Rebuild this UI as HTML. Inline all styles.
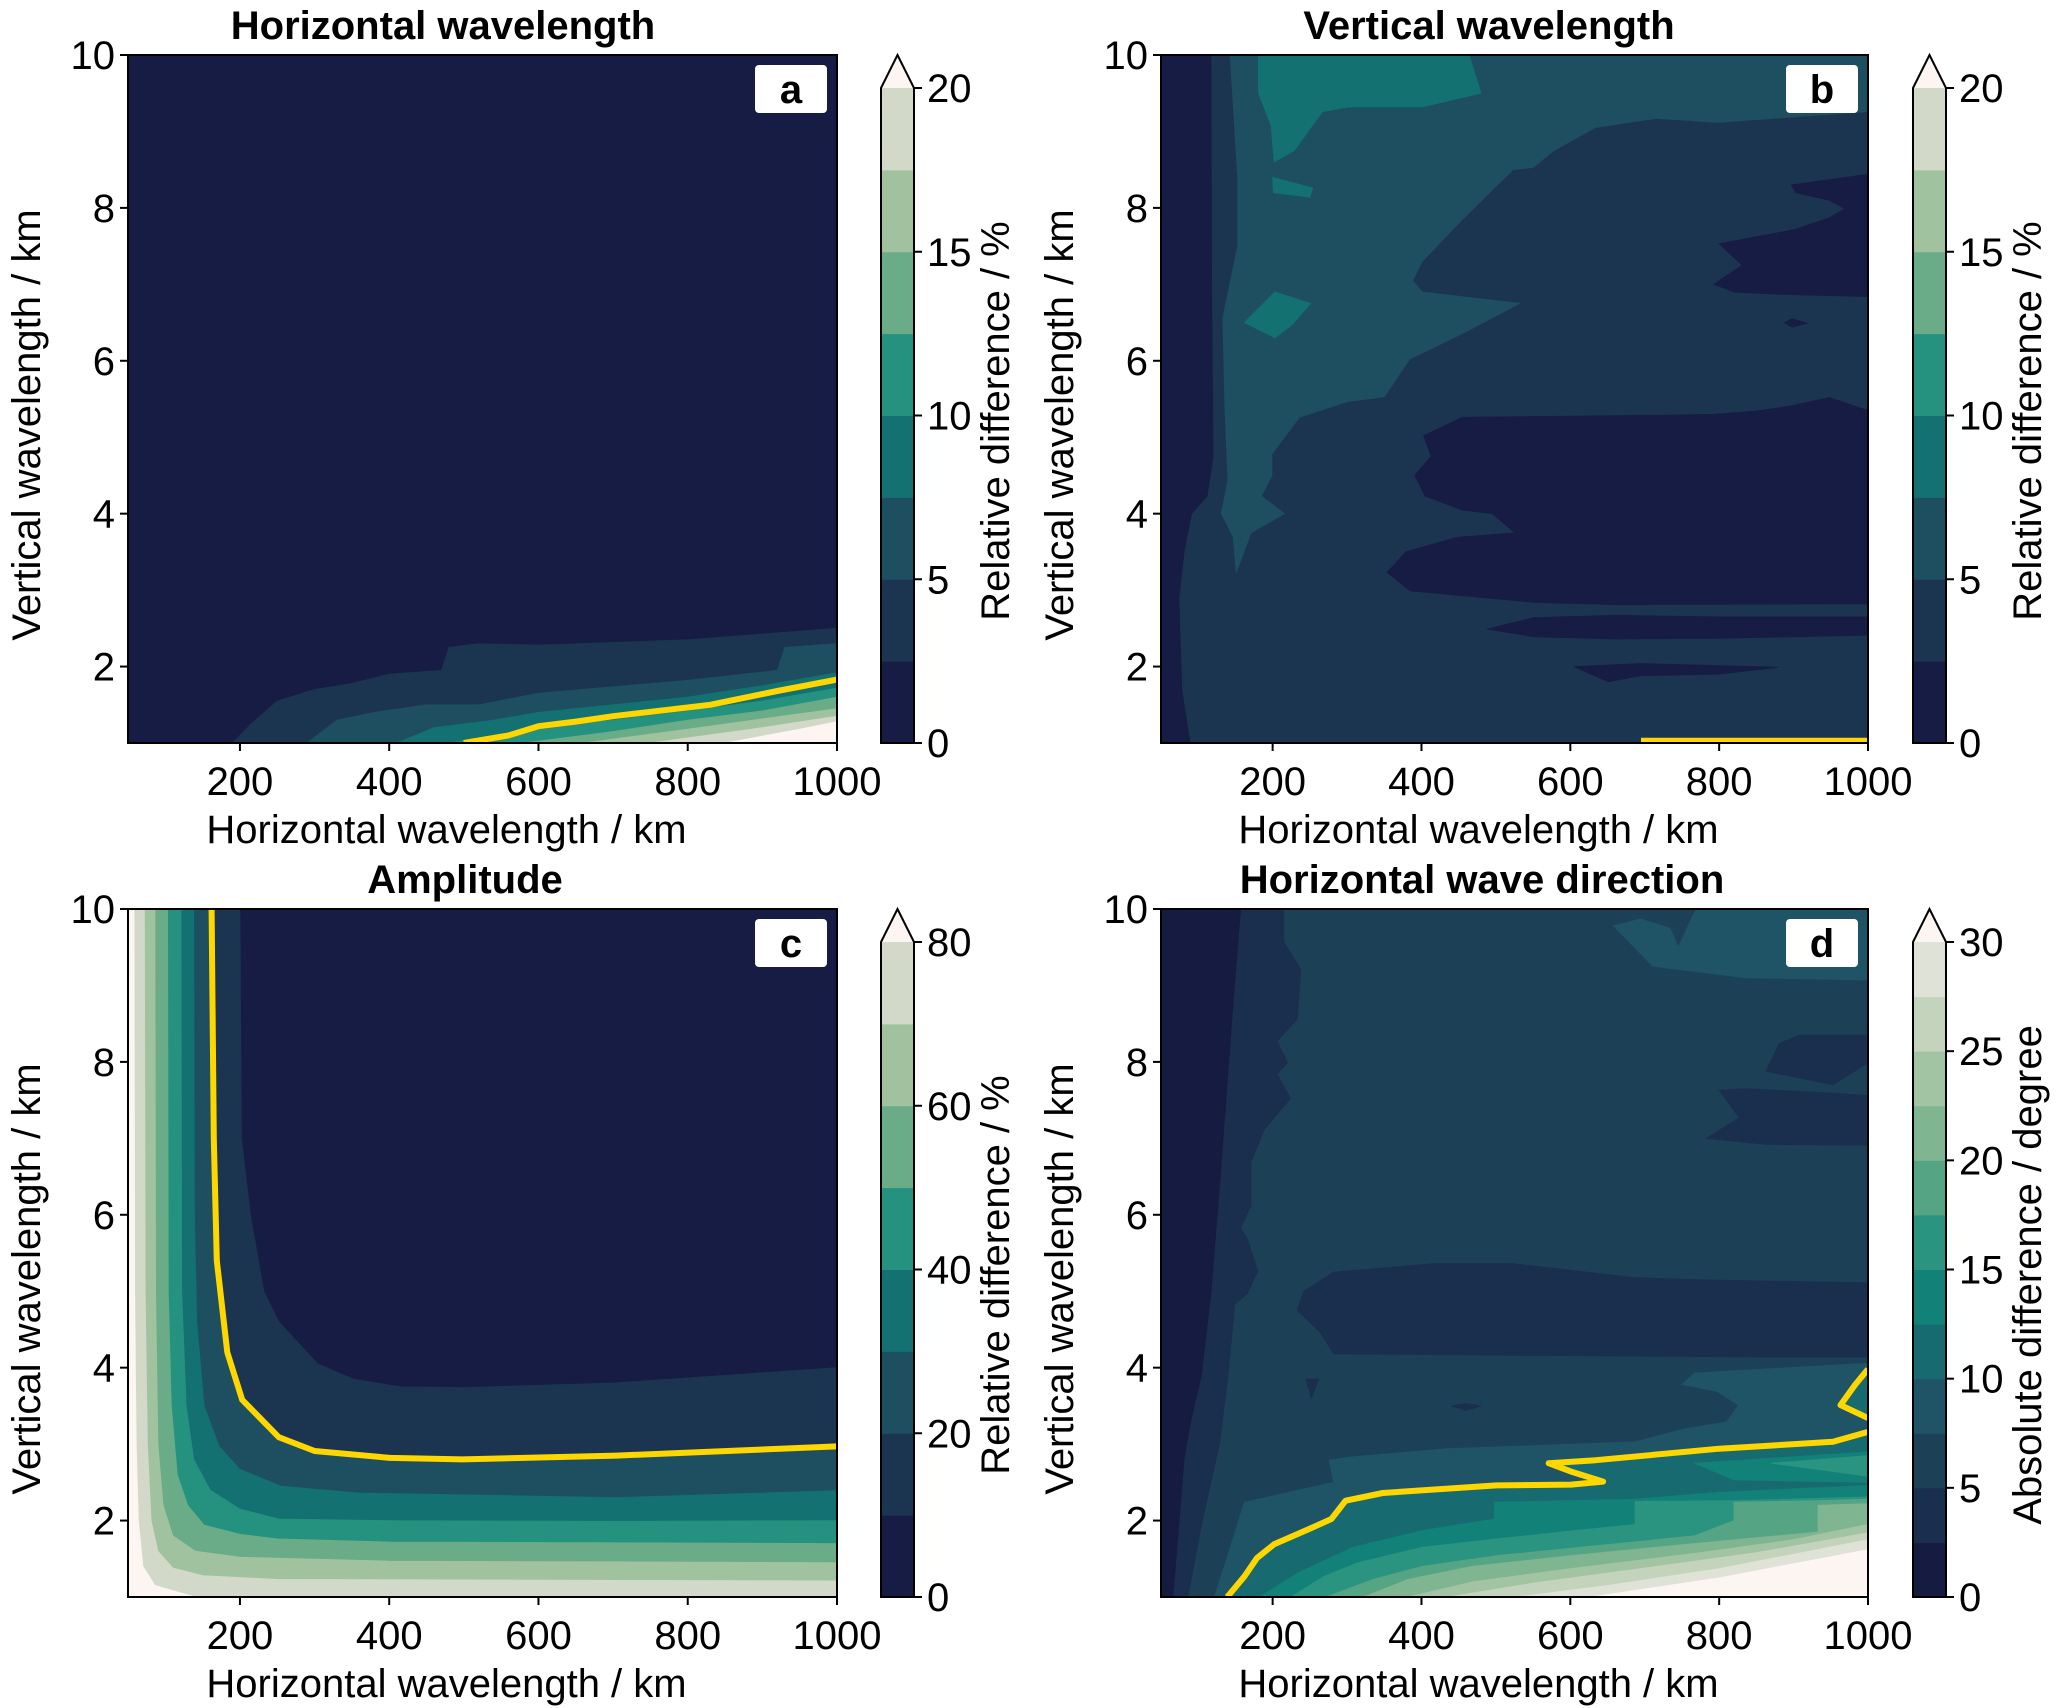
<!DOCTYPE html>
<html><head><meta charset="utf-8"><style>
html,body{margin:0;padding:0;background:#fff;}
svg{display:block;font-family:"Liberation Sans",Arial,sans-serif;}
</style></head><body>
<svg id="fig" width="2067" height="1708" viewBox="0 0 2067 1708" xmlns="http://www.w3.org/2000/svg"></svg>
<script>
// ---- data ----
const xTicks = [200, 400, 600, 800, 1000];
const yTicks = [2, 4, 6, 8, 10];
const cmap8 = ['#161c43','#1b3550','#1e4f60','#137171','#25917f','#6aab88','#a0c29e','#d2d9c8'];
const cmap12 = ['#161b42','#1a2e4e','#1c4056','#1e5466','#176a70','#128177','#2a9480','#55a585','#80b592','#a3c4a2','#c4d3bc','#dfe2d6'];
const overColor = '#fdf5f2';
const cbTicksA = [0, 5, 10, 15, 20];
const cbTicksC = [0, 20, 40, 60, 80];
const cbTicksD = [0, 5, 10, 15, 20, 25, 30];

// Panel a
const aBoundaryLevels = [1, 2, 3, 4, 5, 6, 7, 8];
const aBoundaries = [
 [[190,1],[215,1.25],[250,1.55],[300,1.7],[350,1.78],[400,1.9],[470,1.95],[480,2.25],[520,2.3],[600,2.28],[800,2.35],[1000,2.5]],
 [[290,1],[330,1.3],[380,1.4],[450,1.5],[520,1.5],[600,1.65],[800,1.82],[920,1.95],[930,2.25],[1000,2.3]],
 [[410,1],[460,1.2],[540,1.3],[600,1.4],[700,1.5],[800,1.6],[900,1.75],[1000,1.92]],
 [[480,1],[560,1.12],[600,1.2],[700,1.3],[800,1.42],[900,1.55],[1000,1.72]],
 [[580,1],[700,1.15],[800,1.3],[900,1.42],[1000,1.6]],
 [[660,1],[800,1.18],[1000,1.45]],
 [[750,1],[900,1.2],[1000,1.35]],
 [[850,1],[950,1.18],[1000,1.28]]
];
const aYellow = [[500,1],[560,1.1],[600,1.22],[650,1.28],[700,1.35],[830,1.5],[920,1.68],[1000,1.83]];

// Panel b
const bPatchLevels = [2, 3, 3, 3, 0, 0, 0, 0, 0, 0];
const bPatches = [
 [[143,10],[153,8.38],[153,7.5],[133,6.56],[136,5.35],[140,4.44],[131,4.0],[147,3.7],[151,3.23],[171,3.75],[216,4.0],[185,4.23],[199,4.5],[199,4.78],[236,5.26],[302,5.47],[350,5.53],[384,6.02],[401,6.1],[460,6.38],[532,6.75],[401,6.9],[388,7.05],[401,7.3],[454,7.84],[523,8.5],[550,8.53],[578,8.75],[633,9.05],[715,9.17],[798,9.12],[1000,9.26],[1000,10]],
 [[181,10],[181,9.5],[198,9.08],[202,8.6],[229,8.75],[267,9.26],[302,9.32],[401,9.32],[480,9.5],[464,10]],
 [[200,8.4],[254,8.26],[250,8.14],[201,8.2]],
 [[162,6.5],[203,6.9],[251,6.75],[226,6.47],[203,6.3]],
 [[1000,8.44],[897,8.3],[903,8.2],[948,8.1],[969,7.99],[948,7.87],[903,7.72],[800,7.53],[831,7.25],[793,7.0],[820,6.9],[882,6.87],[1000,6.84]],
 [[1000,5.35],[948,5.52],[897,5.41],[849,5.34],[793,5.3],[731,5.29],[455,5.26],[403,5.02],[413,4.75],[391,4.5],[405,4.23],[454,4.05],[495,4.0],[526,3.75],[447,3.69],[379,3.5],[354,3.23],[385,2.99],[551,2.84],[661,2.81],[1000,2.82]],
 [[488,2.49],[551,2.64],[661,2.67],[798,2.65],[1000,2.65],[1000,2.41],[798,2.37],[661,2.36],[551,2.39]],
 [[605,2.0],[694,2.04],[879,1.99],[798,1.9],[694,1.88],[651,1.8]],
 [[888,6.5],[898,6.55],[919,6.49],[898,6.44]],
 [[50,10],[117,10],[118,7],[120,4.75],[112,4.23],[91,4.0],[81,3.5],[74,2.9],[78,1.7],[89,1],[50,1]]
];
const bYellow = [[695,1.03],[1000,1.03]];

// Panel c
const cBoundaryLevels = [1, 2, 3, 4, 5, 6, 7];
const cBoundaries = [
 [[200,10],[202,7],[214,6],[232,5],[252,4.6],[304,4.05],[352,3.85],[415,3.75],[500,3.74],[700,3.8],[1000,4.0]],
 [[162,10],[165,7],[169,5.4],[183,4.2],[203,3.58],[252,3.09],[300,2.91],[401,2.82],[498,2.8],[705,2.85],[1000,2.97]],
 [[138,10],[139,6],[142,4.6],[152,3.5],[172,2.97],[200,2.67],[255,2.45],[359,2.36],[705,2.3],[1000,2.39]],
 [[121,10],[122,5],[128,3.5],[138,2.8],[160,2.4],[200,2.15],[252,2.02],[400,2.0],[700,1.99],[1000,2.0]],
 [[103,10],[104,5],[108,3.5],[116,2.6],[130,2.2],[152,1.94],[200,1.82],[250,1.76],[400,1.72],[1000,1.70]],
 [[86,10],[87,5],[90,3],[97,2.2],[110,1.8],[140,1.6],[200,1.52],[400,1.47],[1000,1.45]],
 [[72,10],[73,5],[76,3],[81,2],[90,1.6],[110,1.38],[150,1.28],[250,1.23],[1000,1.21]]
];
const cOver = [[58,10],[59,5],[61,3],[64,2],[70,1.4],[86,1.15],[140,1.0]];
const cYellow = [[162,10],[165,7],[169,5.4],[183,4.2],[203,3.58],[252,3.09],[300,2.91],[401,2.82],[498,2.8],[705,2.85],[1000,2.97]];

// Panel d
const dStripLevels = [1, 0];
const dStrips = [
 [[215,10],[215,9.57],[238,9.21],[233,8.56],[206,8.27],[220,7.99],[206,7.84],[224,7.52],[189,7.12],[171,6.69],[171,6.12],[157,5.83],[166,5.69],[180,5.26],[166,4.97],[149,4.83],[140,3.9],[129,3.03],[106,2.02],[86,1]],
 [[157,10],[148,8.92],[130,6.55],[117,4.97],[104,3.89],[90,3.31],[81,2.81],[66,1]]
];
const dIslandLevels = [1, 1, 1, 3, 1, 1];
const dIslands = [
 [[233,4.75],[242,5.0],[282,5.25],[416,5.36],[524,5.36],[684,5.18],[774,5.15],[1000,5.11],[1000,4.14],[863,4.14],[550,4.16],[282,4.18],[264,4.46]],
 [[881,8.24],[908,8.35],[1000,8.35],[1000,7.99],[953,7.7],[863,7.88]],
 [[800,7.63],[836,7.65],[953,7.59],[1000,7.56],[1000,6.91],[863,6.92],[783,7.0],[827,7.27]],
 [[658,9.78],[694,9.87],[734,9.75],[745,9.5],[769,10],[1000,10],[1000,9.07],[836,9.1],[711,9.25]],
 [[245,3.85],[262,3.85],[252,3.6]],
 [[440,3.5],[460,3.53],[480,3.5],[460,3.44]]
];
const dBandLevels = [3, 4, 5, 6, 7, 8, 9, 10, 11];
const dBands = [
 [[122,1],[162,2.24],[282,2.5],[276,2.79],[302,2.83],[435,2.94],[687,3.03],[754,3.2],[810,3.29],[826,3.51],[797,3.69],[750,3.78],[767,3.93],[1000,4.06]],
 [[139,1],[162,1.27],[179,1.51],[202,1.69],[249,1.89],[279,2.02],[298,2.26],[348,2.36],[501,2.46],[601,2.47],[644,2.51],[601,2.64],[571,2.75],[634,2.79],[800,2.94],[953,3.03],[1000,3.16]],
 [[182,1],[235,1.32],[308,1.65],[401,1.87],[498,2.02],[498,2.24],[687,2.28],[800,2.37],[1000,2.46]],
 [[225,1],[269,1.27],[315,1.45],[401,1.65],[501,1.76],[607,1.87],[687,1.95],[687,2.25],[820,2.26],[1000,2.31]],
 [[272,1],[335,1.23],[401,1.4],[501,1.54],[634,1.67],[767,1.8],[820,2.0],[820,2.24],[933,2.26],[1000,2.28]],
 [[322,1],[382,1.23],[468,1.4],[601,1.54],[767,1.7],[933,1.85],[933,2.2],[1000,2.22]],
 [[382,1],[470,1.2],[600,1.37],[767,1.57],[900,1.75],[1000,1.95]],
 [[435,1],[550,1.18],[700,1.38],[850,1.58],[1000,1.84]],
 [[528,1],[650,1.15],[800,1.37],[1000,1.75]]
];
const dOver = [[627,1],[800,1.25],[1000,1.62]];
const dLoop = [[1000,3.34],[963,3.51],[983,3.78],[1000,3.98]];
const dExtraLevels = [4, 5, 6];
const dExtras = [
 [[1000,3.34],[963,3.51],[983,3.78],[1000,3.98]],
 [[767,2.75],[1000,2.9],[1000,2.5],[820,2.53]],
 [[870,2.75],[1000,2.85],[1000,2.58]]
];
const dYellow = [[139,1],[162,1.27],[179,1.51],[202,1.69],[249,1.89],[279,2.02],[298,2.26],[348,2.36],[501,2.46],[601,2.47],[644,2.51],[601,2.64],[571,2.75],[634,2.79],[800,2.94],[953,3.03],[1000,3.16]];

// ---- drawing ----
const NS = 'http://www.w3.org/2000/svg';
const svg = document.getElementById('fig');
function mk(tag, attrs, parent) {
  const e = document.createElementNS(NS, tag);
  for (const k in attrs) e.setAttribute(k, attrs[k]);
  (parent || svg).appendChild(e);
  return e;
}
const FONT = 40;

function makePanel(id, L, T, R, B) {
  const P = {L, T, R, B};
  P.sx = x => L + (x - 50) / 950 * (R - L);
  P.sy = y => B - (y - 1) / 9 * (B - T);
  const cp = mk('clipPath', {id: 'clip-' + id});
  mk('rect', {x: L, y: T, width: R - L, height: B - T}, cp);
  P.g = mk('g', {'clip-path': 'url(#clip-' + id + ')'});
  
  
  return P;
}
function ptsStr(P, pts) { return pts.map(p => P.sx(p[0]).toFixed(1) + ',' + P.sy(p[1]).toFixed(1)).join(' '); }
function poly(P, pts, color, name) {
  const e = mk('polygon', {points: ptsStr(P, pts), fill: color, stroke: color, 'stroke-width': 0.8}, P.g);
  
  
}
function bg(P, color, name) {
  const e = mk('rect', {x: P.L, y: P.T, width: P.R - P.L, height: P.B - P.T, fill: color}, P.g);
  
  
}
function yline(P, pts, name) {
  const e = mk('polyline', {points: ptsStr(P, pts), fill: 'none', stroke: '#ffd700', 'stroke-width': 6, 'stroke-linejoin': 'round'}, P.g);
  
  
}
function axes(P, title, letter, titleX) {
  const f = mk('rect', {x: P.L, y: P.T, width: P.R - P.L, height: P.B - P.T, fill: 'none', stroke: '#000', 'stroke-width': 2});
  
  
  xTicks.forEach(v => {
    const x = P.sx(v);
    mk('line', {x1: x, y1: P.B, x2: x, y2: P.B + 8, stroke: '#000', 'stroke-width': 2});
    const t = mk('text', {x: x, y: P.B + 52, 'font-size': FONT, 'text-anchor': 'middle'});
    t.textContent = v;
    
    
  });
  yTicks.forEach(v => {
    const y = P.sy(v);
    mk('line', {x1: P.L - 8, y1: y, x2: P.L, y2: y, stroke: '#000', 'stroke-width': 2});
    const t = mk('text', {x: P.L - 13, y: y + 14, 'font-size': FONT, 'text-anchor': 'end'});
    t.textContent = v;
    
    
  });
  const xl = mk('text', {x: (P.L + P.R) / 2 - 36, y: P.B + 100, 'font-size': FONT, 'text-anchor': 'middle'});
  xl.textContent = 'Horizontal wavelength / km';
  
  
  const cy = P.T + 370;
  const yl = mk('text', {x: 0, y: 0, 'font-size': FONT, 'text-anchor': 'middle', transform: 'translate(' + (P.L - 88) + ',' + cy + ') rotate(-90)'});
  yl.textContent = 'Vertical wavelength / km';
  
  
  const tt = mk('text', {x: titleX, y: P.T - 16, 'font-size': FONT, 'font-weight': 'bold', 'text-anchor': 'middle'});
  tt.textContent = title;
  
  
  const lb = mk('rect', {x: P.R - 82, y: P.T + 10, width: 72, height: 48, rx: 4, fill: '#fff'});
  
  
  const lt = mk('text', {x: P.R - 46, y: P.T + 48, 'font-size': FONT, 'font-weight': 'bold', 'text-anchor': 'middle'});
  lt.textContent = letter;
  
  
}
function colorbar(x0, T, B, cmap, vmax, ticks, label, name) {
  const g = mk('g', {});
  
  
  const w = 33, top = T + 33, n = cmap.length, h = (B - top) / n;
  cmap.forEach((c, i) => {
    mk('rect', {x: x0, y: B - (i + 1) * h, width: w, height: h + 0.5, fill: c}, g);
  });
  mk('polygon', {points: x0 + ',' + top + ' ' + (x0 + w / 2) + ',' + T + ' ' + (x0 + w) + ',' + top, fill: overColor}, g);
  mk('polygon', {points: x0 + ',' + B + ' ' + x0 + ',' + top + ' ' + (x0 + w / 2) + ',' + T + ' ' + (x0 + w) + ',' + top + ' ' + (x0 + w) + ',' + B, fill: 'none', stroke: '#000', 'stroke-width': 2}, g);
  ticks.forEach(v => {
    const y = B - v / vmax * (B - top);
    mk('line', {x1: x0 + w, y1: y, x2: x0 + w + 8, y2: y, stroke: '#000', 'stroke-width': 2}, g);
    const t = mk('text', {x: x0 + w + 13, y: y + 14, 'font-size': FONT}, g);
    t.textContent = v;
    
    
  });
  const cl = mk('text', {x: 0, y: 0, 'font-size': FONT, 'text-anchor': 'middle', transform: 'translate(' + (x0 + 128) + ',' + (T + 366) + ') rotate(-90)'}, g);
  cl.textContent = label;
  
  
}

// Panel a
const pa = makePanel('a', 128, 55, 837, 743);
bg(pa, cmap8[0], 'background-level');
aBoundaries.forEach((b, i) => {
  const lv = aBoundaryLevels[i];
  poly(pa, b.concat([[1000, 1]]), lv < cmap8.length ? cmap8[lv] : overColor, 'contour-band');
});
yline(pa, aYellow, 'threshold-line');
axes(pa, 'Horizontal wavelength', 'a', 443);
colorbar(881, 55, 743, cmap8, 20, cbTicksA, 'Relative difference / %', 'colorbar-a');

// Panel b
const pb = makePanel('b', 1161, 55, 1868, 743);
bg(pb, cmap8[1], 'background-level');
bPatches.forEach((p, i) => poly(pb, p, cmap8[bPatchLevels[i]], 'contour-patch'));
yline(pb, bYellow, 'threshold-line');
axes(pb, 'Vertical wavelength', 'b', 1489);
colorbar(1913, 55, 743, cmap8, 20, cbTicksA, 'Relative difference / %', 'colorbar-b');

// Panel c
const pc = makePanel('c', 128, 909, 837, 1597);
bg(pc, cmap8[0], 'background-level');
cBoundaries.forEach((b, i) => poly(pc, b.concat([[1000, 1], [50, 1], [50, 10]]), cmap8[cBoundaryLevels[i]], 'contour-band'));
poly(pc, cOver.concat([[50, 1], [50, 10]]), overColor, 'contour-band-over');
yline(pc, cYellow, 'threshold-line');
axes(pc, 'Amplitude', 'c', 465);
colorbar(881, 909, 1597, cmap8, 80, cbTicksC, 'Relative difference / %', 'colorbar-c');

// Panel d
const pd = makePanel('d', 1161, 909, 1868, 1597);
bg(pd, cmap12[2], 'background-level');
dStrips.forEach((s, i) => poly(pd, s.concat([[50, 1], [50, 10]]), cmap12[dStripLevels[i]], 'contour-strip'));
dIslands.forEach((s, i) => poly(pd, s, cmap12[dIslandLevels[i]], 'contour-patch'));
dBands.forEach((b, i) => poly(pd, b.concat([[1000, 1]]), cmap12[dBandLevels[i]], 'contour-band'));
dExtras.forEach((s, i) => poly(pd, s, cmap12[dExtraLevels[i]], 'contour-patch'));
poly(pd, dOver.concat([[1000, 1]]), overColor, 'contour-band-over');
yline(pd, dYellow, 'threshold-line');
yline(pd, dLoop, 'threshold-line-loop');
axes(pd, 'Horizontal wave direction', 'd', 1482);
colorbar(1913, 909, 1597, cmap12, 30, cbTicksD, 'Absolute difference / degree', 'colorbar-d');
</script>
</body></html>
